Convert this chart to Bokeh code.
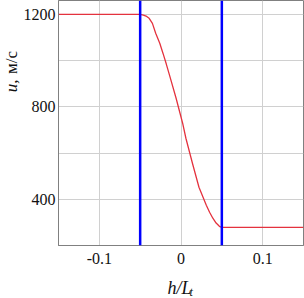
import math
from bokeh.plotting import figure
from bokeh.layouts import row, column
from bokeh.models import Range1d, FixedTicker, Span
from bokeh.core.properties import value
from bokeh.embed import file_html
from bokeh.resources import INLINE

# data
h_values = [-0.15, -0.05, -0.046, -0.042, -0.039, -0.035, -0.031, -0.026, -0.022,
            -0.018, -0.014, -0.006, 0.002, 0.006, 0.014, 0.022, 0.031, 0.035,
            0.039, 0.043, 0.047, 0.05, 0.15]
u_values = [1200, 1200, 1197, 1191, 1183, 1161, 1118, 1075, 1031,
            985, 936, 837, 729, 664, 556, 452, 374, 344,
            318, 297, 283, 278, 278]
boundaries = [-0.05, 0.05]
x_ticks = [-0.1, 0.0, 0.1]
x_tick_labels = {-0.1: "-0.1", 0.0: "0", 0.1: "0.1"}
y_ticks = [400, 800, 1200]
y_minor = [200, 600, 1000]

FONT = "Liberation Serif"
TXT = "#111111"

LEFT_W = 20     # strip holding the y-axis title
MAIN_W = 304 - LEFT_W
MAIN_H = 270
BOTTOM_H = 298 - MAIN_H

p = figure(width=MAIN_W, height=MAIN_H, output_backend="svg", toolbar_location=None,
           x_range=Range1d(-0.15, 0.15), y_range=Range1d(200, 1260),
           min_border_left=57 - LEFT_W, min_border_right=1, min_border_top=0,
           min_border_bottom=MAIN_H - 245)
p.background_fill_color = "white"
p.border_fill_color = "white"
p.outline_line_color = "#808080"
p.outline_line_width = 1

p.xaxis.ticker = FixedTicker(ticks=x_ticks)
p.xaxis.major_label_overrides = x_tick_labels
p.yaxis.ticker = FixedTicker(ticks=y_ticks, minor_ticks=y_minor)
for ax in (p.xaxis, p.yaxis):
    ax.major_label_text_font = FONT
    ax.major_label_text_font_size = "16px"
    ax.major_label_text_color = TXT
    ax.axis_line_color = "#808080"
    ax.major_tick_in = 0
    ax.major_tick_out = 0
    ax.minor_tick_in = 0
    ax.minor_tick_out = 0
p.xaxis.major_label_standoff = 7
p.yaxis.major_label_standoff = 3

p.xgrid.grid_line_color = "#d0d0d0"
p.ygrid.grid_line_color = "#d0d0d0"
p.ygrid.minor_grid_line_color = "#d0d0d0"

p.line(h_values, u_values, line_color="#e4323e", line_width=1.3)
for b in boundaries:
    p.add_layout(Span(location=b, dimension="height", line_color="#0000ff", line_width=2.5))


def blank(w, h):
    f = figure(width=w, height=h, output_backend="svg", toolbar_location=None,
               x_range=Range1d(0, w), y_range=Range1d(0, h),
               min_border=0, min_border_left=0, min_border_right=0,
               min_border_top=0, min_border_bottom=0)
    f.axis.visible = False
    f.grid.visible = False
    f.outline_line_color = None
    f.background_fill_color = "white"
    f.border_fill_color = "white"
    return f


# y-axis title: italic "u," then upright "м/с", reading upward
yl = blank(LEFT_W, MAIN_H)
yl.text(x=[11], y=[MAIN_H - 101], text=["u,"], angle=math.pi / 2,
        text_align="left", text_baseline="middle", text_font=value(FONT),
        text_font_style="italic", text_font_size="17px", text_color=TXT)
yl.text(x=[11], y=[MAIN_H - 81], text=["м/с"], angle=math.pi / 2,
        text_align="left", text_baseline="middle", text_font=value(FONT),
        text_font_size="17px", text_color=TXT)

# x-axis title: h/L with subscript t
xl = blank(304, BOTTOM_H)
xl.text(x=[167], y=[BOTTOM_H - 17], text=["h/L"], text_align="left",
        text_baseline="alphabetic", text_font=value(FONT),
        text_font_style="italic", text_font_size="18px", text_color=TXT)
xl.text(x=[189], y=[BOTTOM_H - 21], text=["t"], text_align="left",
        text_baseline="alphabetic", text_font=value(FONT),
        text_font_style="italic", text_font_size="12px", text_color=TXT)

layout = column(row(yl, p, spacing=0), xl, spacing=0)
open("out.html", "w").write(file_html(layout, INLINE))
